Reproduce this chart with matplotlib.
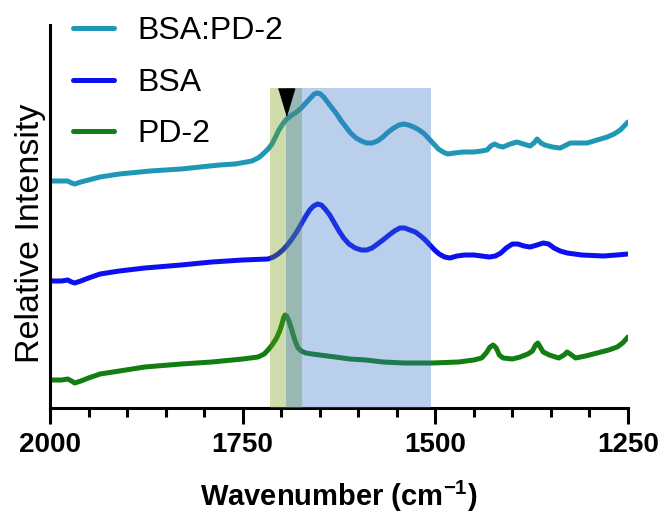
import matplotlib
matplotlib.use("Agg")
import matplotlib.pyplot as plt

plt.rcParams["font.family"] = ["Liberation Sans", "DejaVu Sans"]
plt.rcParams["mathtext.fontset"] = "custom"
plt.rcParams["mathtext.bf"] = "Liberation Sans:bold"
plt.rcParams["mathtext.rm"] = "Liberation Sans"

# FTIR spectra, values (offset stacked, arbitrary units)
wn_mix = [2000, 1985, 1977, 1972, 1968, 1960, 1950, 1935, 1910, 1870, 1830, 1805,
          1780, 1760, 1745, 1738, 1730, 1725, 1721, 1717, 1712, 1708, 1703, 1698,
          1693, 1686, 1680, 1674, 1668, 1662, 1657, 1653, 1649, 1645, 1640, 1634,
          1628, 1622, 1616, 1610, 1603, 1596, 1589, 1582, 1575, 1568, 1561, 1554,
          1547, 1541, 1535, 1528, 1521, 1514, 1508, 1502, 1496, 1490, 1484, 1475,
          1464, 1450, 1440, 1433, 1428, 1423, 1418, 1412, 1403, 1394, 1386, 1377,
          1372, 1368, 1363, 1358, 1348, 1338, 1330, 1325, 1315, 1303, 1290, 1277,
          1268, 1260, 1255, 1250]
bsa_mix = [227, 227, 227, 225, 224, 226, 228, 231, 234, 237, 239, 241,
           243, 244, 246, 247, 250, 253, 256, 259, 264, 270, 278, 284,
           289, 293, 296, 300, 305, 310, 314, 315, 314, 311, 306, 300,
           294, 287, 281, 275, 270, 267, 265, 265, 267, 271, 276, 280,
           283, 284, 283, 281, 278, 274, 269, 264, 259, 256, 254, 255,
           256, 256, 257, 258, 262, 264, 262, 261, 264, 266, 264, 262,
           265, 269, 265, 263, 261, 260, 263, 265, 265, 265, 268, 271,
           274, 278, 282, 286]

wn_bsa = [2000, 1985, 1977, 1972, 1968, 1960, 1950, 1935, 1910, 1877, 1830, 1790,
          1750, 1717, 1710, 1704, 1698, 1692, 1686, 1680, 1674, 1668, 1663, 1658,
          1653, 1648, 1643, 1637, 1631, 1625, 1619, 1612, 1604, 1596, 1589, 1582,
          1575, 1568, 1560, 1553, 1546, 1540, 1533, 1526, 1519, 1513, 1507, 1501,
          1495, 1488, 1481, 1472, 1462, 1450, 1440, 1430, 1422, 1415, 1408, 1400,
          1393, 1385, 1377, 1368, 1360, 1353, 1346, 1338, 1329, 1310, 1282, 1265,
          1250]
bsa = [127, 127, 128, 126, 125, 127, 130, 134, 137, 140, 143, 146,
       148, 149, 151, 154, 158, 163, 169, 176, 184, 192, 198, 202,
       204, 203, 199, 193, 185, 177, 170, 164, 160, 158, 158, 160,
       164, 168, 173, 177, 180, 180, 178, 176, 172, 168, 163, 158,
       154, 151, 150, 152, 153, 153, 152, 151, 152, 155, 160, 164,
       164, 162, 161, 163, 165, 164, 160, 157, 155, 153, 152, 153,
       154]

wn_pd = [2000, 1985, 1977, 1972, 1968, 1960, 1950, 1935, 1910, 1877, 1830, 1790,
         1750, 1730, 1722, 1716, 1711, 1706, 1702, 1699, 1697, 1695, 1693, 1690,
         1687, 1684, 1681, 1678, 1674, 1668, 1660, 1650, 1630, 1611, 1590, 1568,
         1540, 1504, 1470, 1450, 1440, 1434, 1429, 1425, 1421, 1417, 1412, 1400,
         1390, 1380, 1374, 1370, 1367, 1364, 1360, 1352, 1340, 1333, 1329, 1325,
         1318, 1305, 1290, 1275, 1264, 1257, 1250]
pd2 = [28, 28, 29, 27, 25, 27, 30, 34, 37, 41, 44, 46,
       49, 51, 54, 59, 64, 70, 77, 84, 90, 93, 92, 87,
       80, 72, 65, 60, 57, 55, 54, 53, 51, 49, 48, 46,
       45, 45, 46, 48, 50, 55, 61, 63, 60, 53, 50, 49,
       51, 54, 57, 63, 65, 61, 56, 53, 50, 53, 56, 54,
       50, 52, 55, 58, 61, 65, 71]

series = [
    ("BSA:PD-2", wn_mix, bsa_mix, "#1f98b6"),
    ("BSA", wn_bsa, bsa, "#0c10ee"),
    ("PD-2", wn_pd, pd2, "#127d12"),
]

# highlighted regions (cm-1)
green_band = (1715, 1673)
blue_band = (1694, 1505)
band_top = 320
marker_wn = 1694

fig = plt.figure(figsize=(6.65, 5.19), dpi=100)
ax = fig.add_axes([50 / 665, 1 - 408 / 519, 578 / 665, 383 / 519])

for label, wn, val, color in series:
    ax.plot(wn, val, color=color, lw=3.6, label=label, solid_capstyle="round",
            solid_joinstyle="round", zorder=2)

# bands sit on top of the spectra, so they tint them a little
ax.fill_betweenx([0, band_top], *green_band, color="#709b0c", alpha=0.35, lw=0, zorder=3)
ax.fill_betweenx([0, band_top], *blue_band, color="#3776c6", alpha=0.35, lw=0, zorder=3)
tri = [(-0.3, 0.5), (0.3, 0.5), (0, -0.5)]
ax.plot([marker_wn], [band_top - 13.5], marker=tri, ms=19.5, color="black", lw=0, zorder=4)

ax.set_xlim(2000, 1250)
ax.set_ylim(0, 383)
ax.set_xticks([2000, 1750, 1500, 1250])
ax.set_xticks(range(1950, 1250, -50), minor=True)
ax.set_yticks([])
for s in ("top", "right"):
    ax.spines[s].set_visible(False)
for s in ("left", "bottom"):
    ax.spines[s].set_linewidth(2.2)
ax.tick_params(axis="x", which="major", length=11.5, width=2.2, pad=6, labelsize=20)
ax.tick_params(axis="x", which="minor", length=6.5, width=2.2)
for t in ax.get_xticklabels():
    t.set_fontweight("bold")

ax.set_xlabel("Wavenumber (cm$^{\\mathbf{-1}}$)", fontsize=21, fontweight="bold", labelpad=15)
ax.set_ylabel("Relative Intensity", fontsize=24.5)
ax.yaxis.set_label_coords(-4 / 578, (408 - 233) / 383)

ax.legend(loc="upper left", bbox_to_anchor=(73 / 665, 1 - 16 / 519), bbox_transform=fig.transFigure,
          frameon=False, fontsize=23, handlelength=1.28, handletextpad=0.72,
          labelspacing=0.68, borderaxespad=0, borderpad=0)

fig.savefig("out.png", dpi=100)
